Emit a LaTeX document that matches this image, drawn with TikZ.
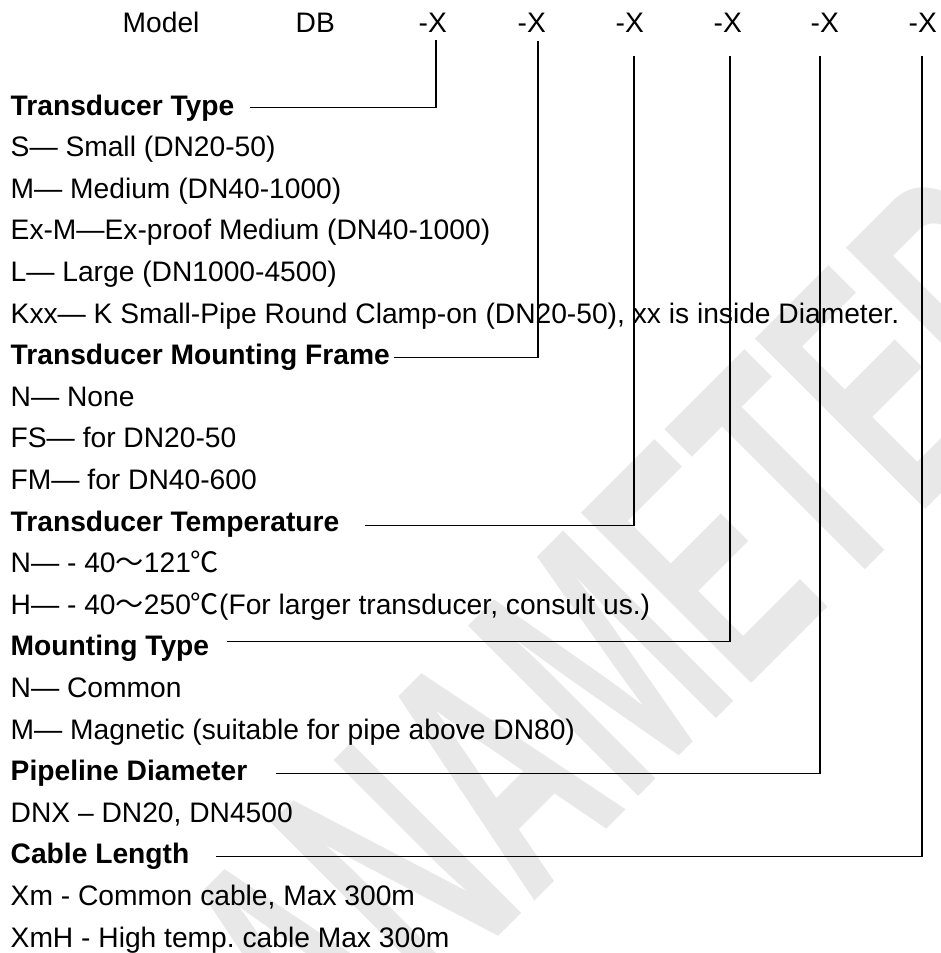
\documentclass[tikz,border=0pt]{standalone}
\usepackage{fontspec}
\setmainfont{Liberation Sans}
\newfontfamily\cjk{Noto Sans CJK SC}
\usetikzlibrary{positioning}
\definecolor{wmgray}{HTML}{E8E8E8}
\frenchspacing

\begin{document}
\begin{tikzpicture}[x=1pt, y=-1pt, line width=1.4pt,
    txt/.style = {anchor=base west, inner sep=0pt, font=\fontsize{28.2}{34}\selectfont},
    head/.style = {txt, font=\fontsize{28.2}{34}\selectfont\bfseries},
    wm/.style = {rotate=45, xscale=0.55, text=wmgray, font=\fontsize{350}{350}\selectfont\bfseries}]
    \useasboundingbox (0,0) rectangle (940,953);
    \begin{scope}
        \clip (0,0) rectangle (940,953);
        \node[wm] (mark) at (635,630) {ANAMETER};
    \end{scope}

    \node[txt] (model) at (122,32) {Model};
    \node[txt] (db) at (295,32) {DB};
    \node[txt] (x1) at (418,32) {-X};
    \node[txt] (x2) at (517,32) {-X};
    \node[txt] (x3) at (615,32) {-X};
    \node[txt] (x4) at (713,32) {-X};
    \node[txt] (x5) at (810,32) {-X};
    \node[txt] (x6) at (908,32) {-X};

    \node[head] (type) at (10,115) {Transducer Type};
    \node[txt] (s) at ([yshift=-41.6pt]type.base west) {S— Small (DN20-50)};
    \node[txt] (m) at ([yshift=-41.6pt]s.base west) {M— Medium (DN40-1000)};
    \node[txt] (exm) at ([yshift=-41.6pt]m.base west) {Ex-M—Ex-proof Medium (DN40-1000)};
    \node[txt] (l) at ([yshift=-41.6pt]exm.base west) {L— Large (DN1000-4500)};
    \node[txt] (kxx) at ([yshift=-41.6pt]l.base west) {Kxx— K Small-Pipe Round Clamp-on (DN20-50), xx is inside Diameter.};
    \node[head] (frame) at ([yshift=-41.6pt]kxx.base west) {Transducer Mounting Frame};
    \node[txt] (fn) at ([yshift=-41.6pt]frame.base west) {N— None};
    \node[txt] (fs) at ([yshift=-41.6pt]fn.base west) {FS— for DN20-50};
    \node[txt] (fm) at ([yshift=-41.6pt]fs.base west) {FM— for DN40-600};
    \node[head] (temp) at ([yshift=-41.6pt]fm.base west) {Transducer Temperature};
    \node[txt] (tn) at ([yshift=-41.6pt]temp.base west) {N— - 40{\cjk ～}121{\cjk ℃}};
    \node[txt] (th) at ([yshift=-41.6pt]tn.base west) {H— - 40{\cjk ～}250{\cjk ℃}(For larger transducer, consult us.)};
    \node[head] (mount) at ([yshift=-41.6pt]th.base west) {Mounting Type};
    \node[txt] (mn) at ([yshift=-41.6pt]mount.base west) {N— Common};
    \node[txt] (mm) at ([yshift=-41.6pt]mn.base west) {M— Magnetic (suitable for pipe above DN80)};
    \node[head] (pipe) at ([yshift=-41.6pt]mm.base west) {Pipeline Diameter};
    \node[txt] (dnx) at ([yshift=-41.6pt]pipe.base west) {DNX – DN20, DN4500};
    \node[head] (cable) at ([yshift=-41.6pt]dnx.base west) {Cable Length};
    \node[txt] (xm) at ([yshift=-41.6pt]cable.base west) {Xm - Common cable, Max 300m};
    \node[txt] (xmh) at ([yshift=-41.6pt]xm.base west) {XmH - High temp. cable Max 300m};

    \draw ([xshift=15pt]type.east) -| ([xshift=3pt,yshift=-7pt]x1.south);
    \draw ([xshift=3pt]frame.east) -| ([xshift=6pt,yshift=-8pt]x2.south);
    \draw ([xshift=25pt,yshift=-2pt]temp.east) -| ([xshift=4pt,yshift=-23pt]x3.south);
    \draw ([xshift=17pt,yshift=7pt]mount.east) -| ([xshift=2pt,yshift=-23pt]x4.south);
    \draw ([xshift=28pt]pipe.east) -| ([xshift=-5pt,yshift=-23pt]x5.south);
    \draw ([xshift=26pt]cable.east) -| ([xshift=-1pt,yshift=-23pt]x6.south);
\end{tikzpicture}
\end{document}
